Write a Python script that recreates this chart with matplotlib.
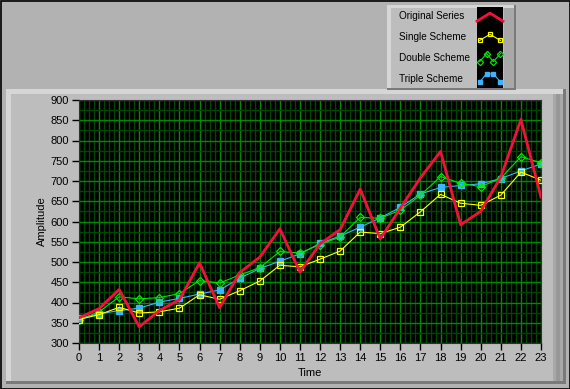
import matplotlib
matplotlib.use('Agg')
import matplotlib.pyplot as plt
from matplotlib.patches import Rectangle
from matplotlib.ticker import MultipleLocator

# data
time = list(range(24))
original = [362, 385, 432, 340, 380, 407, 498, 387, 474, 512, 582, 475,
            545, 580, 680, 557, 633, 708, 773, 592, 625, 710, 852, 660]
single = [358, 370, 388, 374, 377, 386, 419, 408, 429, 453, 492, 488,
          507, 527, 574, 570, 586, 624, 667, 645, 640, 665, 722, 702]
double = [357, 377, 414, 409, 412, 422, 454, 448, 468, 486, 526, 522,
          543, 562, 610, 608, 628, 665, 711, 694, 686, 707, 760, 745]
triple = [361, 372, 380, 386, 401, 410, 421, 431, 460, 484, 502, 520,
          546, 564, 586, 609, 635, 668, 684, 689, 693, 706, 725, 742]
names = ['Original Series', 'Single Scheme', 'Double Scheme', 'Triple Scheme']

W, H = 570, 389
plt.rcParams['font.family'] = ['Liberation Sans', 'DejaVu Sans']
plt.rcParams['font.size'] = 8

fig = plt.figure(figsize=(W / 100, H / 100), dpi=100, facecolor='#b2b2b2')


def px(x0, y0, x1, y1):
    # pixel box (y from top) -> figure fraction rect
    return [x0 / W, 1 - y1 / H, (x1 - x0) / W, (y1 - y0) / H]


def box(x0, y0, x1, y1, **kw):
    l, b, w, h = px(x0, y0, x1, y1)
    fig.patches.append(Rectangle((l, b), w, h, transform=fig.transFigure,
                                 figure=fig, zorder=-5, **kw))


# outer border
box(0.5, 0.5, W - 0.5, H - 0.5, facecolor='none', edgecolor='black', lw=1.2)
# graph panel with bevel
box(6, 89, 566, 384, facecolor='#7a7a7a', edgecolor='none')
box(6, 89, 563, 381, facecolor='#d6d6d6', edgecolor='none')
box(11, 94, 563, 381, facecolor='#bdbdbd', edgecolor='none')
box(553, 94, 563, 381, facecolor='#a8a8a8', edgecolor='none')
box(556, 94, 560, 381, facecolor='#989898', edgecolor='none')
# legend panel with bevel
box(387, 5, 516, 90, facecolor='#7a7a7a', edgecolor='none')
box(387, 5, 514, 88, facecolor='#d6d6d6', edgecolor='none')
box(391, 8, 514, 88, facecolor='#bdbdbd', edgecolor='none')
box(504, 8, 514, 88, facecolor='#a8a8a8', edgecolor='none')

ax = fig.add_axes(px(79, 100, 541, 343))
ax.set_facecolor('black')

ax.plot(time, triple, color='#3cb4ff', lw=0.8, marker='s', ms=4.5,
        mec='#3cb4ff', mfc='#3cb4ff', zorder=3)
ax.plot(time, double, color='#00e600', lw=0.8, marker='D', ms=4.5,
        mec='#00e600', mfc='none', mew=0.9, zorder=4)
ax.plot(time, single, color='#ffff00', lw=0.8, marker='s', ms=5,
        mec='#ffff00', mfc='none', mew=0.9, zorder=5)
ax.plot(time, original, color='#f5103c', lw=2.0, zorder=6)

ax.set_xlim(0, 23)
ax.set_ylim(300, 900)
ax.xaxis.set_major_locator(MultipleLocator(1))
ax.xaxis.set_minor_locator(MultipleLocator(0.25))
ax.yaxis.set_major_locator(MultipleLocator(50))
ax.yaxis.set_minor_locator(MultipleLocator(25))
ax.grid(which='minor', color='#004600', lw=1, zorder=0)
ax.grid(which='major', color='#008a00', lw=1, zorder=1)
ax.set_axisbelow(True)
ax.tick_params(which='minor', length=0)
ax.tick_params(which='major', direction='out', length=5, width=1, color='black',
               labelsize=8, pad=2)
for s in ax.spines.values():
    s.set_color('#303030')
ax.set_xlabel('Time', fontsize=8, labelpad=4)
ax.set_ylabel('Amplitude', fontsize=8, labelpad=3)

# legend: labels on the left, symbols in a black strip on the right
leg = fig.add_axes(px(477, 7, 503, 88))
leg.set_facecolor('black')
leg.set_xlim(0, 1)
leg.set_ylim(4, 0)
leg.set_xticks([])
leg.set_yticks([])
for s in leg.spines.values():
    s.set_visible(False)

symbols = [
    ([0, 0.5, 1], [0.7, 0.3, 0.7], dict(color='#f5103c', lw=2.0)),
    ([0.1, 0.5, 0.9], [0.65, 0.35, 0.65],
     dict(color='#ffff00', lw=0.8, marker='s', ms=3.5, mfc='none', mew=0.9)),
    ([0.1, 0.37, 0.63, 0.9], [0.7, 0.3, 0.7, 0.3],
     dict(color='#00e600', lw=0.8, marker='D', ms=3.2, mfc='none', mew=0.9)),
    ([0.1, 0.37, 0.63, 0.9], [0.7, 0.3, 0.3, 0.7],
     dict(color='#3cb4ff', lw=0.8, marker='s', ms=3.5)),
]
for i, (name, (sx, sy, st)) in enumerate(zip(names, symbols)):
    leg.plot(sx, [v + i for v in sy], clip_on=False, **st)
    fig.text(399 / W, 1 - (16 + 21 * i) / H, name, fontsize=7.2,
             ha='left', va='center')

fig.savefig('out.png', dpi=100, facecolor=fig.get_facecolor())
